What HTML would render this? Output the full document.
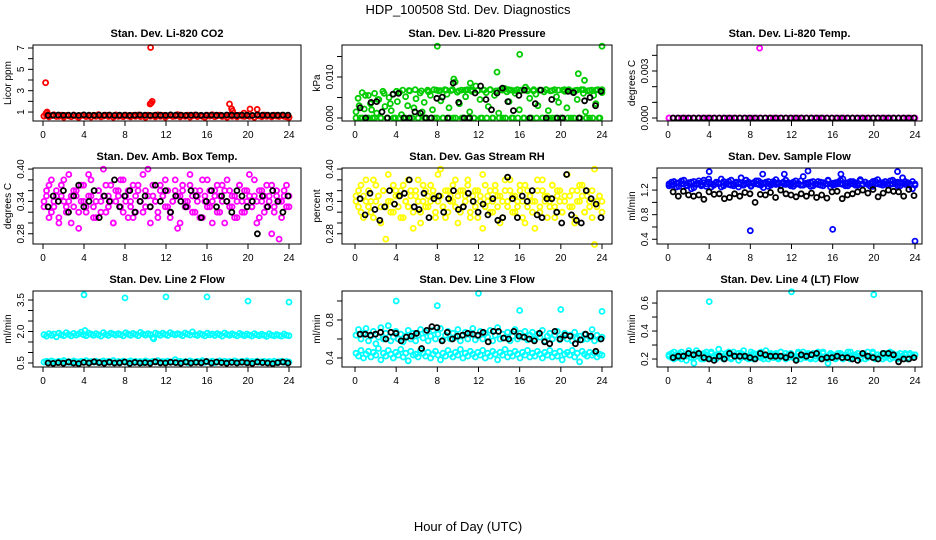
<!DOCTYPE html>
<html><head><meta charset="utf-8">
<style>
html,body{margin:0;padding:0;background:#fff;}
svg{display:block;font-family:"Liberation Sans",sans-serif;}
</style></head>
<body>
<svg id="chart" width="936" height="540" viewBox="0 0 936 540">
<text x="468" y="14" text-anchor="middle" font-size="13">HDP_100508  Std. Dev. Diagnostics</text>
<text x="468" y="531" text-anchor="middle" font-size="13">Hour of Day (UTC)</text>
</svg>
<script>
const xTicks=[0,4,8,12,16,20,24];
// Panel 1: CO2
const co2Red=[0.62,0.7,0.55,0.66,0.74,0.58,0.6,0.71,0.52,0.68,0.63,0.56,0.72,0.61,0.5,0.67,0.7,0.57,0.64,0.53,0.69,0.6,0.75,0.55,0.62,0.7,0.58,0.66,0.52,0.73,0.6,0.65,0.56,0.7,0.62,0.54,0.68,0.6,0.72,0.57,0.64,0.5,0.7,0.61,0.66,0.55,0.73,0.6,0.68,0.52,0.65,0.7,0.58,0.62,0.75,0.55,0.67,0.6,0.7,0.53,0.64,0.72,0.57,0.66,0.6,0.5,0.69,0.62,0.74,0.56,0.65,0.7,0.58,0.63,0.52,0.71,0.6,0.67,0.55,0.7,0.62,0.58,0.73,0.6,0.66,0.5,0.69,0.63,0.56,0.72,0.6,0.65,0.54,0.7,0.62,0.58,0.68,0.6,0.55,0.5];
const co2Black=[0.68,0.7,0.72,0.69,0.71,0.7,0.68,0.73,0.7,0.69,0.71,0.7,0.72,0.68,0.7,0.71,0.69,0.7,0.72,0.7,0.68,0.71,0.7,0.69,0.73,0.7,0.71,0.68,0.7,0.72,0.69,0.7,0.71,0.7,0.68,0.72,0.7,0.69,0.71,0.7,0.68,0.73,0.7,0.71,0.69,0.7,0.72,0.7];
const co2OutX=[0.1,0.25,0.3,0.4,10.5,10.45,10.55,10.65,18.2,18.4,18.5,19.6,20.2,20.9,24];
const co2OutY=[0.62,3.75,0.9,1.0,7.05,1.75,1.85,2.0,1.75,1.3,1.1,0.9,1.28,1.25,0.5];
// Panel 2: Pressure
const presGreen=[0.0015,0.0048,0.0,0.0062,0.0022,0.0,0.0055,0.0035,0.0,0.006,0.0012,0.0045,0.0,0.0065,0.0028,0.0,0.005,0.0018,0.0058,0.0,0.004,0.0063,0.0008,0.0,0.0052,0.003,0.0066,0.0,0.0025,0.0047,0.0,0.0061,0.0015,0.0038,0.0,0.0064,0.0055,0.002,0.0,0.0068,0.0066,0.0042,0.0,0.0069,0.0058,0.0025,0.0067,0.0,0.0088,0.0063,0.0035,0.0068,0.0,0.0052,0.0069,0.0015,0.0065,0.0,0.0078,0.0067,0.0045,0.0,0.0068,0.0062,0.0028,0.0069,0.0,0.0055,0.0066,0.0012,0.0069,0.0,0.0072,0.0064,0.004,0.0068,0.0,0.006,0.0069,0.002,0.0067,0.0,0.0075,0.0066,0.0048,0.0,0.0069,0.0058,0.003,0.0068,0.0,0.0064,0.0069,0.0018,0.0066,0.0,0.0069,0.0052,0.0038,0.0,0.0068,0.0065,0.0025,0.0069,0.0,0.0063,0.0067,0.0045,0.0,0.0069,0.006,0.0015,0.0066,0.0,0.0068,0.0055,0.0035,0.0069,0.0,0.0062];
const presGreen2=[0.0,0.003,0.0,0.0055,0.0,0.002,0.0,0.0045,0.0,0.006,0.0,0.0035,0.0,0.0065,0.0,0.0068,0.0,0.0067,0.0,0.0069,0.0,0.0066,0.0,0.0068,0.0,0.0069,0.0,0.0067,0.0,0.0068,0.0,0.0069,0.0,0.0066,0.0,0.0068,0.0,0.0069,0.0,0.0067,0.0,0.0068,0.0,0.0069,0.0,0.0066,0.0,0.0068,0.0,0.0069,0.0,0.0067,0.0,0.0068,0.0,0.0069,0.0,0.0066,0.0,0.0068,0.0,0.0069,0.0,0.0067,0.0,0.0068,0.0,0.0069,0.0,0.0066,0.0,0.0068,0.0,0.0069,0.0,0.0067,0.0,0.0068,0.0,0.0069];
const presBlack=[0.0025,0.0,0.0038,0.004,0.0015,0.0,0.0058,0.006,0.0,0.0,0.0015,0.0012,0.0,0.0,0.0048,0.0051,0.0,0.0085,0.0038,0.0,0.0,0.0061,0.0078,0.0045,0.002,0.0061,0.0073,0.004,0.0018,0.0055,0.0068,0.0,0.0035,0.0068,0.0,0.0045,0.0,0.0,0.0065,0.0062,0.0,0.0042,0.005,0.003,0.0065];
const presOutX=[8,16,24,13.8,21.7,22.3,9.6,11.2];
const presOutY=[0.0175,0.0155,0.0175,0.0112,0.0108,0.0092,0.0095,0.0085];
// Panel 3: Li-820 Temp
const tempMag=[0,0,0,0,0,0,0,0,0,0,0,0,0,0,0,0,0,0,0,0,0,0,0,0,0,0,0,0,0,0,0,0,0,0,0,0,0,0,0,0,0,0,0,0,0,0,0,0,0,0,0,0,0,0,0,0,0,0,0,0];
const tempBlack=[0,0,0,0,0,0,0,0,0,0,0,0,0,0,0,0,0,0,0,0,0,0,0,0,0,0,0,0,0,0,0,0,0,0,0,0,0,0,0,0,0,0,0,0,0,0,0,0];
const tempOutX=[8.9,0.1];
const tempOutY=[0.00446,0];
// Panel 4: Amb box temp
const ambA=[0.34,0.36,0.31,0.38,0.33,0.35,0.3,0.37,0.34,0.32,0.39,0.35,0.33,0.36,0.29,0.34,0.37,0.32,0.35,0.38,0.33,0.31,0.36,0.34,0.4,0.32,0.35,0.37,0.3,0.34,0.36,0.33,0.38,0.35,0.31,0.34,0.37,0.32,0.36,0.34,0.39,0.33,0.35,0.3,0.37,0.34,0.32,0.36,0.35,0.38,0.33,0.31,0.34,0.36,0.29,0.35,0.37,0.33,0.34,0.39,0.32,0.36,0.35,0.31,0.38,0.34,0.33,0.36,0.3,0.35,0.37,0.32,0.34,0.36,0.38,0.33,0.35,0.31,0.34,0.37,0.32,0.36,0.34,0.39,0.33,0.35,0.3,0.36,0.34,0.32,0.37,0.35,0.28,0.33,0.36,0.34,0.31,0.35,0.37,0.33];
const ambB=[0.33,0.35,0.37,0.32,0.34,0.36,0.31,0.35,0.38,0.33,0.34,0.3,0.36,0.35,0.32,0.37,0.34,0.33,0.39,0.35,0.31,0.34,0.36,0.32,0.35,0.37,0.33,0.34,0.3,0.36,0.35,0.38,0.32,0.34,0.36,0.33,0.31,0.35,0.37,0.34,0.32,0.36,0.4,0.33,0.35,0.34,0.31,0.37,0.35,0.33,0.36,0.32,0.34,0.38,0.35,0.3,0.36,0.34,0.33,0.37,0.35,0.32,0.34,0.36,0.31,0.35,0.38,0.33,0.34,0.36,0.32,0.35,0.37,0.3,0.34,0.36,0.33,0.35,0.31,0.37,0.34,0.32,0.36,0.35,0.33,0.38,0.34,0.31,0.36,0.35,0.33,0.34,0.37,0.32,0.35,0.27,0.34,0.36,0.33,0.35];
const ambBlack=[0.33,0.35,0.34,0.36,0.32,0.35,0.37,0.33,0.34,0.36,0.31,0.35,0.34,0.38,0.33,0.35,0.36,0.32,0.34,0.35,0.33,0.37,0.34,0.36,0.32,0.35,0.34,0.33,0.36,0.35,0.31,0.34,0.36,0.33,0.35,0.34,0.32,0.36,0.35,0.33,0.34,0.28,0.35,0.33,0.36,0.34,0.32,0.35];
// Panel 5: Gas stream RH
const rhA=[0.35,0.33,0.37,0.31,0.34,0.36,0.32,0.38,0.34,0.35,0.3,0.36,0.33,0.39,0.34,0.32,0.36,0.35,0.31,0.37,0.34,0.33,0.36,0.29,0.35,0.38,0.32,0.34,0.36,0.33,0.37,0.35,0.31,0.34,0.4,0.33,0.36,0.32,0.35,0.34,0.38,0.3,0.36,0.33,0.35,0.37,0.32,0.34,0.36,0.31,0.35,0.39,0.33,0.34,0.36,0.32,0.37,0.35,0.3,0.34,0.36,0.33,0.38,0.35,0.32,0.34,0.36,0.31,0.37,0.33,0.35,0.34,0.29,0.36,0.32,0.38,0.34,0.35,0.33,0.37,0.31,0.36,0.34,0.32,0.35,0.39,0.33,0.36,0.3,0.34,0.37,0.35,0.32,0.36,0.34,0.31,0.4,0.33,0.35,0.34];
const rhB=[0.34,0.36,0.32,0.35,0.38,0.33,0.34,0.31,0.37,0.35,0.33,0.36,0.27,0.34,0.32,0.37,0.35,0.33,0.36,0.31,0.34,0.38,0.35,0.32,0.36,0.34,0.3,0.37,0.33,0.35,0.34,0.36,0.32,0.39,0.35,0.33,0.31,0.36,0.34,0.37,0.33,0.35,0.32,0.36,0.34,0.38,0.31,0.35,0.33,0.36,0.34,0.29,0.37,0.35,0.32,0.34,0.36,0.33,0.35,0.31,0.38,0.34,0.36,0.32,0.35,0.33,0.37,0.34,0.3,0.36,0.35,0.32,0.34,0.38,0.33,0.36,0.35,0.31,0.34,0.37,0.33,0.35,0.36,0.32,0.34,0.39,0.35,0.33,0.31,0.36,0.34,0.37,0.32,0.35,0.33,0.36,0.26,0.34,0.35,0.32];
const rhBlack=[0.345,0.315,0.355,0.325,0.305,0.33,0.36,0.335,0.35,0.355,0.38,0.33,0.325,0.355,0.31,0.345,0.35,0.32,0.345,0.36,0.325,0.33,0.355,0.34,0.32,0.335,0.315,0.345,0.305,0.31,0.385,0.345,0.31,0.35,0.34,0.36,0.315,0.31,0.345,0.345,0.32,0.3,0.39,0.315,0.305,0.3,0.36,0.345,0.335,0.31];
// Panel 6: Sample flow
const sfBlueA=[1.3,1.28,1.34,1.25,1.32,1.3,1.36,1.27,1.31,1.33,1.24,1.3,1.35,1.29,1.32,1.26,1.38,1.3,1.28,1.33,1.31,1.25,1.34,1.3,1.29,1.36,1.27,1.32,1.3,1.4,1.28,1.31,1.33,1.26,1.3,1.35,1.29,1.32,1.24,1.3,1.34,1.28,1.31,1.37,1.3,1.27,1.33,1.29,1.32,1.3,1.26,1.35,1.3,1.28,1.42,1.31,1.29,1.33,1.27,1.3,1.34,1.28,1.32,1.3,1.36,1.25,1.31,1.29,1.33,1.3,1.38,1.27,1.32,1.3,1.34,1.28,1.31,1.35,1.29,1.33,1.3,1.26,1.34,1.31,1.37,1.29,1.32,1.3,1.28,1.35,1.3,1.33,1.27,1.31,1.4,1.29,1.32,1.3,1.34,1.28];
const sfBlueB=[1.27,1.33,1.29,1.31,1.26,1.35,1.3,1.28,1.32,1.22,1.34,1.29,1.31,1.27,1.36,1.3,1.33,1.25,1.29,1.32,1.3,1.38,1.27,1.31,1.34,1.28,1.3,1.33,1.25,1.31,1.29,1.36,1.3,1.27,1.32,1.3,1.35,1.28,1.31,1.33,1.26,1.3,1.34,1.29,1.32,1.28,1.31,1.36,1.3,1.27,1.33,1.29,1.31,1.35,1.28,1.3,1.32,1.26,1.34,1.3,1.29,1.33,1.27,1.31,1.35,1.3,1.28,1.32,1.3,1.36,1.29,1.31,1.27,1.34,1.3,1.32,1.28,1.37,1.3,1.33,1.29,1.31,1.26,1.35,1.3,1.32,1.28,1.34,1.31,1.29,1.36,1.3,1.33,1.27,1.31,1.34,1.3,1.28,1.22,1.3];
const sfBlack=[1.17,1.1,1.18,1.12,1.1,1.12,1.05,1.17,1.13,1.14,1.06,1.08,1.14,1.1,1.16,1.14,1.0,1.13,1.12,1.16,1.08,1.2,1.14,1.12,1.09,1.14,1.1,1.15,1.08,1.12,1.07,1.17,1.18,1.06,1.12,1.14,1.17,1.2,1.15,1.21,1.09,1.15,1.2,1.18,1.17,1.1,1.21,1.11];
const sfOutX=[4,8,16,24,13.6,22.3,9.2,11.3,16.8];
const sfOutY=[1.5,0.54,0.56,0.37,1.51,1.5,1.46,1.46,1.46];
// Panel 7: Line 2 flow
const l2Upper=[1.85,1.78,1.9,1.82,1.88,1.75,1.92,1.84,1.8,1.95,1.86,1.79,1.91,1.83,1.88,1.97,1.85,1.8,1.93,1.87,1.82,1.9,1.84,1.78,1.95,1.86,1.81,1.92,1.88,1.83,1.9,1.85,1.79,1.94,1.87,1.82,1.91,1.86,1.8,1.96,1.88,1.83,1.9,1.85,1.7,1.93,1.87,1.82,1.92,1.86,1.81,1.95,1.88,1.84,1.9,1.86,1.8,1.93,1.87,1.83,1.98,1.85,1.81,1.9,1.86,1.79,1.92,1.84,1.88,1.81,1.9,1.85,1.78,1.93,1.86,1.82,1.89,1.84,1.79,1.91,1.85,1.8,1.88,1.83,1.78,1.9,1.84,1.8,1.87,1.82,1.77,1.89,1.83,1.79,1.86,1.81,1.78,1.88,1.82,1.8];
const l2Lower=[0.55,0.58,0.52,0.6,0.56,0.53,0.59,0.55,0.62,0.54,0.57,0.52,0.6,0.56,0.54,0.58,0.55,0.61,0.53,0.57,0.55,0.59,0.52,0.56,0.6,0.54,0.58,0.55,0.62,0.53,0.57,0.55,0.59,0.54,0.56,0.6,0.53,0.58,0.55,0.57,0.52,0.6,0.56,0.54,0.58,0.55,0.61,0.53,0.57,0.55,0.59,0.54,0.56,0.66,0.53,0.58,0.55,0.57,0.52,0.6,0.56,0.54,0.58,0.55,0.61,0.53,0.57,0.55,0.59,0.52,0.56,0.6,0.54,0.58,0.55,0.57,0.53,0.6,0.56,0.54,0.58,0.55,0.6,0.53,0.57,0.55,0.59,0.54,0.56,0.58,0.53,0.57,0.55,0.59,0.52,0.56,0.58,0.54,0.57,0.55];
const l2Black=[0.5,0.48,0.52,0.49,0.55,0.5,0.47,0.53,0.5,0.56,0.52,0.49,0.54,0.5,0.51,0.55,0.48,0.53,0.5,0.52,0.49,0.56,0.51,0.5,0.54,0.52,0.49,0.55,0.5,0.53,0.51,0.57,0.5,0.55,0.52,0.49,0.53,0.5,0.54,0.51,0.48,0.55,0.52,0.5,0.47,0.52,0.55,0.5];
const l2OutX=[4,8,12,16,20,24,4.1,10.8];
const l2OutY=[3.75,3.6,3.65,3.65,3.45,3.4,2.05,1.65];
// Panel 8: Line 3 flow
const l3Upper=[0.64,0.7,0.6,0.66,0.71,0.58,0.63,0.68,0.55,0.62,0.72,0.6,0.66,0.74,0.58,0.62,0.68,0.6,0.65,0.57,0.63,0.69,0.6,0.66,0.58,0.64,0.7,0.61,0.67,0.58,0.63,0.69,0.6,0.65,0.71,0.59,0.64,0.68,0.6,0.66,0.62,0.7,0.58,0.64,0.67,0.6,0.65,0.71,0.59,0.63,0.68,0.6,0.66,0.62,0.69,0.58,0.64,0.72,0.6,0.65,0.61,0.67,0.58,0.63,0.7,0.6,0.66,0.62,0.68,0.59,0.64,0.67,0.6,0.65,0.62,0.69,0.58,0.63,0.66,0.6,0.64,0.68,0.59,0.62,0.66,0.6,0.64,0.58,0.67,0.61,0.63,0.59,0.65,0.6,0.62,0.7,0.58,0.64,0.6,0.62];
const l3Lower=[0.45,0.42,0.48,0.4,0.44,0.47,0.41,0.46,0.43,0.5,0.38,0.45,0.42,0.48,0.44,0.4,0.46,0.43,0.49,0.41,0.45,0.37,0.47,0.43,0.44,0.41,0.48,0.45,0.42,0.46,0.4,0.44,0.47,0.43,0.38,0.45,0.42,0.48,0.44,0.41,0.46,0.43,0.49,0.4,0.45,0.42,0.47,0.44,0.41,0.46,0.43,0.48,0.4,0.45,0.42,0.47,0.44,0.38,0.46,0.43,0.49,0.41,0.45,0.42,0.47,0.44,0.4,0.46,0.43,0.48,0.41,0.45,0.42,0.47,0.44,0.4,0.46,0.43,0.48,0.41,0.45,0.42,0.47,0.38,0.44,0.46,0.43,0.48,0.41,0.45,0.36,0.47,0.44,0.42,0.46,0.43,0.45,0.41,0.44,0.43];
const l3Black=[0.65,0.65,0.64,0.65,0.67,0.6,0.67,0.66,0.58,0.62,0.63,0.66,0.5,0.69,0.73,0.72,0.58,0.67,0.6,0.63,0.64,0.66,0.65,0.64,0.67,0.57,0.68,0.68,0.61,0.6,0.68,0.63,0.62,0.6,0.58,0.66,0.57,0.55,0.68,0.6,0.64,0.63,0.55,0.59,0.65,0.63,0.47,0.6];
const l3OutX=[4,8,12,16,20,24];
const l3OutY=[1.0,0.95,1.08,0.9,0.91,0.89];
// Panel 9: Line 4 flow
const l4A=[0.22,0.24,0.2,0.23,0.21,0.25,0.22,0.19,0.24,0.23,0.21,0.26,0.22,0.2,0.24,0.23,0.21,0.25,0.22,0.2,0.23,0.24,0.21,0.22,0.25,0.2,0.23,0.22,0.24,0.21,0.26,0.22,0.2,0.23,0.24,0.21,0.22,0.25,0.2,0.23,0.22,0.24,0.21,0.23,0.2,0.25,0.22,0.24,0.21,0.23,0.22,0.2,0.24,0.22,0.25,0.21,0.23,0.2,0.24,0.22,0.23,0.21,0.25,0.22,0.2,0.24,0.23,0.21,0.22,0.24,0.2,0.23,0.22,0.25,0.21,0.23,0.22,0.2,0.24,0.23,0.21,0.22,0.25,0.2,0.23,0.22,0.24,0.21,0.23,0.2,0.24,0.22,0.23,0.21,0.22,0.24,0.2,0.23,0.22,0.23];
const l4B=[0.23,0.21,0.25,0.22,0.24,0.2,0.23,0.22,0.26,0.21,0.17,0.24,0.22,0.23,0.2,0.25,0.22,0.24,0.21,0.23,0.27,0.22,0.2,0.24,0.23,0.21,0.25,0.22,0.19,0.24,0.23,0.21,0.22,0.25,0.2,0.23,0.24,0.21,0.22,0.26,0.2,0.23,0.22,0.24,0.21,0.25,0.22,0.2,0.23,0.24,0.21,0.22,0.25,0.2,0.23,0.22,0.24,0.21,0.23,0.2,0.25,0.22,0.24,0.21,0.17,0.23,0.22,0.2,0.24,0.23,0.21,0.22,0.25,0.2,0.23,0.22,0.24,0.21,0.23,0.2,0.25,0.22,0.24,0.21,0.23,0.22,0.2,0.24,0.22,0.25,0.21,0.23,0.2,0.24,0.22,0.23,0.21,0.24,0.22,0.23];
const l4Black=[0.21,0.22,0.22,0.24,0.23,0.24,0.21,0.2,0.19,0.22,0.2,0.24,0.22,0.22,0.22,0.21,0.2,0.24,0.23,0.22,0.22,0.22,0.21,0.23,0.19,0.23,0.22,0.23,0.24,0.2,0.21,0.21,0.22,0.21,0.21,0.2,0.19,0.24,0.22,0.21,0.2,0.24,0.24,0.23,0.18,0.2,0.2,0.21];
const l4OutX=[4,12,20];
const l4OutY=[0.61,0.68,0.66];

const NS='http://www.w3.org/2000/svg';
const svg=document.getElementById('chart');
function mk(tag,attrs,parent){const e=document.createElementNS(NS,tag);for(const k in attrs)e.setAttribute(k,attrs[k]);(parent||svg).appendChild(e);return e;}

const colBox=[[33,301,43,289],[342,612,355,602],[657,922,668,915]];
const rowBox=[45,168,291];
const panels=[
 {title:'Stan. Dev. Li-820 CO2',ylab:'Licor ppm',dom:[0.16,7.28],ticks:[1,2,3,4,5,6,7],labs:[1,3,5,7],dec:0,col:'#ff0000',series:[co2Red],black:co2Black,ox:co2OutX,oy:co2OutY,oc:'#ff0000'},
 {title:'Stan. Dev. Li-820 Pressure',ylab:'kPa',dom:[-0.00073,0.0178],ticks:[0,0.005,0.01,0.015],labs:[0,0.01],dec:3,col:'#00cc00',series:[presGreen,presGreen2],black:presBlack,ox:presOutX,oy:presOutY,oc:'#00cc00'},
 {title:'Stan. Dev. Li-820 Temp.',ylab:'degrees C',dom:[-0.00019,0.00466],ticks:[0,0.001,0.002,0.003,0.004],labs:[0,0.003],dec:3,col:'#ff00ff',series:[tempMag],black:tempBlack,ox:tempOutX,oy:tempOutY,oc:'#ff00ff'},
 {title:'Stan. Dev. Amb. Box Temp.',ylab:'degrees C',dom:[0.261,0.402],ticks:[0.28,0.3,0.32,0.34,0.36,0.38,0.4],labs:[0.28,0.34,0.4],dec:2,col:'#ff00ff',series:[ambA,ambB],black:ambBlack,ox:[],oy:[],oc:'#ff00ff'},
 {title:'Stan. Dev. Gas Stream RH',ylab:'percent',dom:[0.261,0.402],ticks:[0.28,0.3,0.32,0.34,0.36,0.38,0.4],labs:[0.28,0.34,0.4],dec:2,col:'#ffff00',series:[rhA,rhB],black:rhBlack,ox:[],oy:[],oc:'#ffff00'},
 {title:'Stan. Dev. Sample Flow',ylab:'ml/min',dom:[0.323,1.559],ticks:[0.4,0.6,0.8,1.0,1.2,1.4],labs:[0.4,0.8,1.2],dec:1,col:'#0000ff',series:[sfBlueA,sfBlueB],black:sfBlack,ox:sfOutX,oy:sfOutY,oc:'#0000ff'},
 {title:'Stan. Dev. Line 2 Flow',ylab:'ml/min',dom:[0.31,3.93],ticks:[0.5,1,1.5,2,2.5,3,3.5],labs:[0.5,2.0,3.5],dec:1,col:'#00ffff',series:[l2Upper,l2Lower],black:l2Black,ox:l2OutX,oy:l2OutY,oc:'#00ffff'},
 {title:'Stan. Dev. Line 3 Flow',ylab:'ml/min',dom:[0.305,1.105],ticks:[0.4,0.6,0.8,1.0],labs:[0.4,0.8],dec:1,col:'#00ffff',series:[l3Upper,l3Lower],black:l3Black,ox:l3OutX,oy:l3OutY,oc:'#00ffff'},
 {title:'Stan. Dev. Line 4 (LT) Flow',ylab:'ml/min',dom:[0.143,0.686],ticks:[0.2,0.3,0.4,0.5,0.6],labs:[0.2,0.4,0.6],dec:1,col:'#00ffff',series:[l4A,l4B],black:l4Black,ox:l4OutX,oy:l4OutY,oc:'#00ffff'}
];

panels.forEach((p,i)=>{
  const c=colBox[i%3], top=rowBox[Math.floor(i/3)], bot=top+76;
  const [bx0,bx1,x0,x24]=c;
  const xs=h=>x0+(x24-x0)*h/24;
  const ys=v=>bot-(v-p.dom[0])/(p.dom[1]-p.dom[0])*76;
  const g=mk('g',{});
  
  
  const t=mk('text',{x:(bx0+bx1)/2,y:top-8,'text-anchor':'middle','font-size':'11','font-weight':'bold'},g);
  t.textContent=p.title;
  
  
  const pts=mk('g',{fill:'none','stroke-width':'1.8'},g);
  
  
  function dot(h,v,col){const e=mk('circle',{cx:xs(h).toFixed(1),cy:ys(v).toFixed(1),r:'2.5',stroke:col},pts);
    
    }
  p.series.forEach(arr=>{const n=arr.length;arr.forEach((v,k)=>dot(0.1+k*23.9/(n-1),v,p.col));});
  p.ox.forEach((h,k)=>dot(h,p.oy[k],p.oc));
  const nb=p.black.length;
  p.black.forEach((v,k)=>dot(0.5+k*23.4/(nb-1),v,'#000'));
  const box=mk('rect',{x:bx0,y:top,width:bx1-bx0,height:76,fill:'none',stroke:'#000','stroke-width':'1'},g);
  
  
  const xa=mk('g',{},g);
  
  
  xTicks.forEach(h=>{const x=xs(h);mk('line',{x1:x,x2:x,y1:bot,y2:bot+5,stroke:'#000'},xa);
    const tl=mk('text',{x:x,y:bot+17,'text-anchor':'middle','font-size':'10'},xa);tl.textContent=h;});
  const ya=mk('g',{},g);
  
  
  p.ticks.forEach(v=>{const y=ys(v);mk('line',{x1:bx0-5,x2:bx0,y1:y,y2:y,stroke:'#000'},ya);});
  p.labs.forEach(v=>{const y=ys(v);const tl=mk('text',{x:0,y:0,'text-anchor':'middle','font-size':'10',transform:`translate(${bx0-9},${y}) rotate(-90)`},ya);tl.textContent=v.toFixed(p.dec);});
  const yl=mk('text',{x:0,y:0,'text-anchor':'middle','font-size':'10',transform:`translate(${bx0-22},${top+38}) rotate(-90)`},g);
  yl.textContent=p.ylab;
  
  
});
</script>
</body></html>
